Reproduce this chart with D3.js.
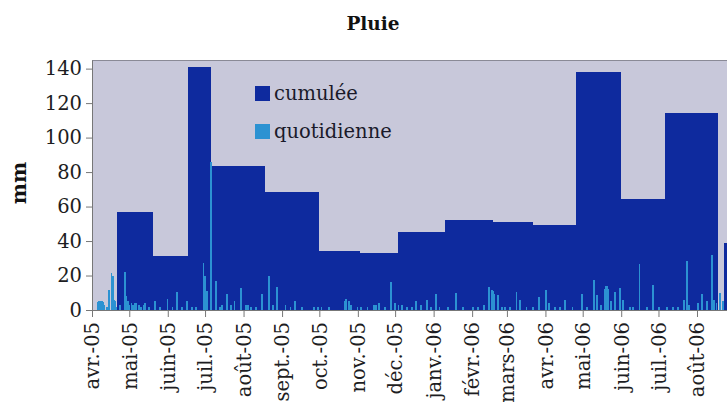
<!DOCTYPE html>
<html><head><meta charset="utf-8">
<script src="https://cdn.jsdelivr.net/npm/d3@7"></script>
<style>body{margin:0;background:#fff}svg{display:block}</style>
</head><body>
<svg id="c" width="727" height="405"></svg>
<script>
// ---- data ----
const cumStart = ["2005-04-21","2005-05-20","2005-06-17","2005-07-06","2005-08-18","2005-10-01","2005-11-03","2005-12-03","2006-01-10","2006-02-18","2006-03-22","2006-04-26","2006-06-01","2006-07-06","2006-08-23"];
const cumEnd   = ["2005-05-20","2005-06-17","2005-07-06","2005-08-18","2005-10-01","2005-11-03","2005-12-03","2006-01-10","2006-02-18","2006-03-22","2006-04-26","2006-06-01","2006-07-06","2006-08-18","2006-09-20"];
const cumValues = [57,31.5,141,83.5,68.5,34,33,45.5,52,51,49.5,138,64.5,114.5,39];

const dailyDates = ["2005-04-05","2005-04-06","2005-04-07","2005-04-08","2005-04-09","2005-04-10","2005-04-12","2005-04-14","2005-04-16","2005-04-17","2005-04-18","2005-04-19","2005-04-20","2005-04-23","2005-04-27","2005-04-28","2005-04-29","2005-04-30","2005-05-02","2005-05-03","2005-05-05","2005-05-06","2005-05-08","2005-05-10","2005-05-12","2005-05-13","2005-05-16","2005-05-21","2005-05-25","2005-05-31","2005-06-04","2005-06-08","2005-06-12","2005-06-16","2005-06-20","2005-06-23","2005-06-29","2005-06-30","2005-07-01","2005-07-02","2005-07-05","2005-07-09","2005-07-12","2005-07-14","2005-07-18","2005-07-21","2005-07-24","2005-07-29","2005-08-02","2005-08-04","2005-08-06","2005-08-10","2005-08-15","2005-08-21","2005-08-24","2005-08-27","2005-09-03","2005-09-07","2005-09-11","2005-09-16","2005-09-26","2005-09-29","2005-10-02","2005-10-08","2005-10-21","2005-10-22","2005-10-24","2005-10-26","2005-10-31","2005-11-03","2005-11-08","2005-11-13","2005-11-15","2005-11-17","2005-11-22","2005-11-27","2005-11-30","2005-12-03","2005-12-06","2005-12-10","2005-12-14","2005-12-17","2005-12-21","2005-12-26","2005-12-29","2006-01-02","2006-01-05","2006-01-12","2006-01-18","2006-01-24","2006-02-01","2006-02-05","2006-02-10","2006-02-14","2006-02-16","2006-02-17","2006-02-18","2006-02-21","2006-02-24","2006-02-27","2006-03-03","2006-03-08","2006-03-11","2006-03-16","2006-03-21","2006-03-26","2006-04-01","2006-04-03","2006-04-08","2006-04-12","2006-04-16","2006-04-22","2006-04-30","2006-05-04","2006-05-09","2006-05-12","2006-05-15","2006-05-18","2006-05-19","2006-05-20","2006-05-21","2006-05-23","2006-05-26","2006-05-30","2006-06-02","2006-06-07","2006-06-10","2006-06-15","2006-06-21","2006-06-26","2006-07-01","2006-07-07","2006-07-12","2006-07-16","2006-07-21","2006-07-23","2006-07-25","2006-08-01","2006-08-04","2006-08-08","2006-08-12","2006-08-14","2006-08-16","2006-08-19","2006-08-21"];
const dailyValues = [4.5,5,5,5,4.5,3,2,11.5,21.5,20,6,5,2,3,22,8,5,3,4,3,4,4,3,2,3,4,2,5,2,6.5,2,10.5,2,5,2,1.5,27.5,20,8,11,86,17,2,3,9.5,3,5,13,3,3,2,2,9.5,20,3,13.5,3,1.5,5,1.5,2,2,2,1.5,5,6.5,5,3,2,2,1.5,3,3,4,2,16.5,4,3,3,2,2,5.5,3,6,2,9,2,2,10,1.5,2,1.5,3,13.5,11.5,11,9,8.5,2,2,1.5,10.5,6,2,2,7.5,11.5,4,2,2,6,2,9,2,17.5,8.5,3,12,14,14,12,5,10.5,12.5,6,2,2,26.5,2,14.5,2,1.5,2,2,6,28.5,3,4,9,5,32,6,4,10,5];

const tickMonths = ["2005-04-01","2005-05-01","2005-06-01","2005-07-01","2005-08-01","2005-09-01","2005-10-01","2005-11-01","2005-12-01","2006-01-01","2006-02-01","2006-03-01","2006-04-01","2006-05-01","2006-06-01","2006-07-01","2006-08-01"];
const tickLabels = ["avr.-05","mai-05","juin-05","juil.-05","août-05","sept.-05","oct.-05","nov.-05","déc.-05","janv.-06","févr.-06","mars-06","avr.-06","mai-06","juin-06","juil.-06","août-06"];
const yTicks = [0,20,40,60,80,100,120,140];
const seriesNames = ["cumulée","quotidienne"];

// ---- chart ----
const parse = d3.utcParse("%Y-%m-%d");
const svg = d3.select("#c");
const FONT = "'DejaVu Serif', serif";
const C_DARK = "#0e2a9e", C_LIGHT = "#2c92d2", C_BG = "#c8c8da";

const pLeft = 92, pTop = 60, pBottom = 310, pRight = 735.5;
const x = d3.scaleUtc().domain([parse("2005-04-01"), parse("2006-09-01")]).range([pLeft, pRight]);
const y = d3.scaleLinear().domain([0, 145]).range([pBottom, pTop]);

svg.append("defs").append("clipPath").attr("id","clip")
  .append("rect").attr("x",pLeft).attr("y",pTop).attr("width",pRight-pLeft).attr("height",pBottom-pTop);

svg.append("rect").attr("x",pLeft).attr("y",pTop).attr("width",pRight-pLeft).attr("height",pBottom-pTop)
  .attr("fill",C_BG);
svg.append("line").attr("x1",pLeft).attr("x2",pRight).attr("y1",pTop+0.5).attr("y2",pTop+0.5)
  .attr("stroke","#8a8a96").attr("stroke-width",1);

const plot = svg.append("g").attr("clip-path","url(#clip)");

const cum = cumValues.map((v,i)=>({s:parse(cumStart[i]), e:parse(cumEnd[i]), v}));
plot.selectAll("rect.cum").data(cum).join("rect").attr("class","cum")
  .attr("x",d=>x(d.s)).attr("width",d=>x(d.e)-x(d.s))
  .attr("y",d=>y(d.v)).attr("height",d=>y(0)-y(d.v))
  .attr("fill",C_DARK).attr("shape-rendering","crispEdges");

const daily = dailyValues.map((v,i)=>({d:parse(dailyDates[i]), v}));
plot.selectAll("rect.day").data(daily).join("rect").attr("class","day")
  .attr("x",d=>x(d.d)).attr("width",d=>(x(d3.utcDay.offset(d.d,1))-x(d.d))*1.5)
  .attr("y",d=>y(d.v)).attr("height",d=>y(0)-y(d.v))
  .attr("fill",C_LIGHT).attr("shape-rendering","crispEdges");

// y axis
const ya = svg.append("g").attr("transform",`translate(${pLeft},0)`)
  .call(d3.axisLeft(y).tickValues(yTicks).tickSize(6).tickSizeOuter(0).tickPadding(4));
ya.select(".domain").attr("stroke","#777");
ya.selectAll(".tick line").attr("stroke","#777");
ya.selectAll("text").attr("font-family",FONT).attr("font-size","19.5px").attr("fill","#1d1d22");

// x axis
const xa = svg.append("g").attr("transform",`translate(0,${pBottom})`)
  .call(d3.axisBottom(x).tickValues(tickMonths.map(parse)).tickFormat((d,i)=>tickLabels[i])
        .tickSize(7).tickSizeOuter(0));
xa.select(".domain").attr("stroke","#777");
xa.selectAll(".tick line").attr("stroke","#777");
xa.selectAll("text").attr("font-family",FONT).attr("font-size","19.5px").attr("fill","#1d1d22")
  .attr("transform","rotate(-90)").attr("x",-12).attr("y",0).attr("dy","0.35em")
  .style("text-anchor","end");

// title
svg.append("text").attr("x",373).attr("y",30).attr("text-anchor","middle")
  .attr("font-family",FONT).attr("font-weight","bold").attr("font-size","18.5px")
  .attr("fill","#111").text("Pluie");

// y label
svg.append("text").attr("transform","translate(26,183) rotate(-90)").attr("text-anchor","middle")
  .attr("font-family",FONT).attr("font-weight","bold").attr("font-size","20px")
  .attr("fill","#111").text("mm");

// legend
const lg = svg.append("g");
const legColors = [C_DARK, C_LIGHT];
const legY = [101, 139];
seriesNames.forEach((n,i)=>{
  lg.append("rect").attr("x",255).attr("y",legY[i]-15).attr("width",15).attr("height",15).attr("fill",legColors[i]);
  lg.append("text").attr("x",274).attr("y",legY[i]-1).attr("font-family",FONT).attr("font-size","19.5px")
    .attr("fill","#1a1a2a").text(n);
});
</script>
</body></html>
